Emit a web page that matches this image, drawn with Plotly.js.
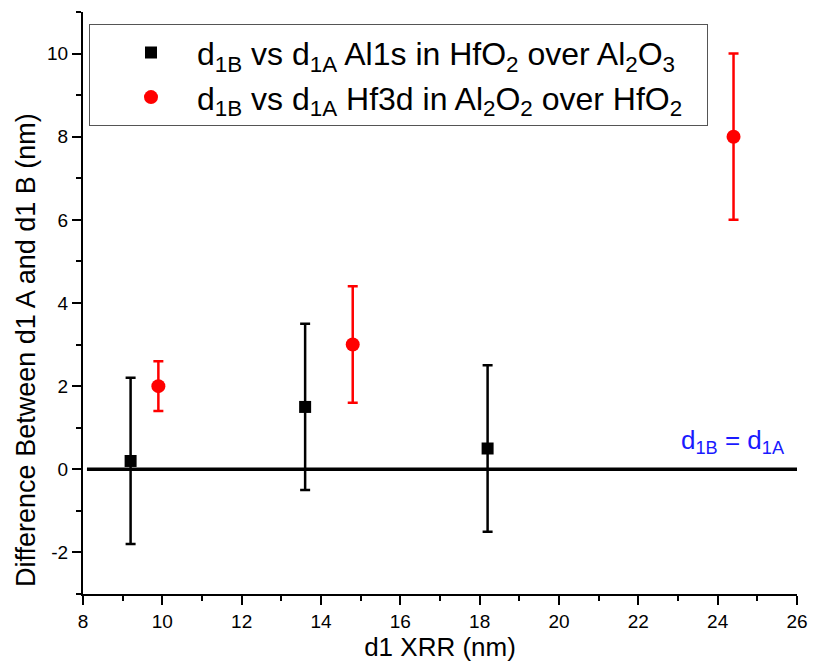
<!DOCTYPE html>
<html>
<head>
<meta charset="utf-8">
<script src="https://cdn.plot.ly/plotly-3.0.1.min.js"></script>
<style>html,body{margin:0;padding:0;background:#fff;}#chart{width:813px;height:662px;}</style>
</head>
<body>
<div id="chart"></div>
<script>
// Series 1: Al1s in HfO2 over Al2O3 (black squares)
const blackX = [9.2, 13.6, 18.2];
const blackY = [0.2, 1.5, 0.5];
const blackErr = [2.0, 2.0, 2.0];
// Series 2: Hf3d in Al2O2 over HfO2 (red circles)
const redX = [9.9, 14.8, 24.4];
const redY = [2.0, 3.0, 8.0];
const redErr = [0.6, 1.4, 2.0];
// Reference line d1B = d1A
const refX = [8.1, 26];
const refY = [0, 0];
// Tick labels
const yTickVals = [-2, 0, 2, 4, 6, 8, 10];
const yTickText = ['-2', '0', '2', '4', '6', '8', '10'];
const xTickVals = [8, 10, 12, 14, 16, 18, 20, 22, 24, 26];
const xTickText = ['8', '10', '12', '14', '16', '18', '20', '22', '24', '26'];

const FONT = 'Liberation Sans, Arial, sans-serif';

const traces = [
  {
    x: refX, y: refY, mode: 'lines', showlegend: false,
    line: {color: '#000', width: 3.5}, hoverinfo: 'skip'
  },
  {
    x: blackX, y: blackY, mode: 'markers', type: 'scatter',
    name: 'd<sub>1B</sub> vs d<sub>1A</sub> Al1s in HfO<sub>2</sub> over Al<sub>2</sub>O<sub>3</sub>&nbsp;&nbsp;&nbsp;',
    marker: {symbol: 'square', size: 12, color: '#000'},
    error_y: {type: 'data', array: blackErr, visible: true, color: '#000', thickness: 2.5, width: 5}
  },
  {
    x: redX, y: redY, mode: 'markers', type: 'scatter',
    name: 'd<sub>1B</sub> vs d<sub>1A</sub> Hf3d in Al<sub>2</sub>O<sub>2</sub> over HfO<sub>2</sub>',
    marker: {symbol: 'circle', size: 14, color: '#ff0000'},
    error_y: {type: 'data', array: redErr, visible: true, color: '#ff0000', thickness: 2.5, width: 5}
  }
];

const layout = {
  width: 813, height: 662,
  margin: {l: 83, r: 16, t: 12, b: 68},
  paper_bgcolor: '#fff', plot_bgcolor: '#fff',
  font: {family: FONT, color: '#000', size: 19},
  showlegend: true,
  legend: {
    x: 0.0084, y: 0.979, xanchor: 'left', yanchor: 'top',
    bordercolor: '#555', borderwidth: 1, bgcolor: '#fff',
    font: {family: FONT, size: 32, color: '#000'},
    indentation: 15, itemwidth: 82
  },
  xaxis: {
    range: [8, 26], showgrid: false, zeroline: false,
    showline: true, linecolor: '#000', linewidth: 2,
    ticks: 'outside', ticklen: 9, tickwidth: 2, tickcolor: '#000',
    tickmode: 'array', tickvals: xTickVals, ticktext: xTickText,
    tickfont: {family: FONT, size: 19},
    minor: {ticks: 'outside', ticklen: 5, tickwidth: 2, tickcolor: '#000', dtick: 1, tick0: 0},
    title: {text: 'd1 XRR (nm)', font: {family: FONT, size: 26}, standoff: 3}
  },
  yaxis: {
    range: [-3, 11], showgrid: false, zeroline: false,
    showline: true, linecolor: '#000', linewidth: 2,
    ticks: 'outside', ticklen: 9, tickwidth: 2, tickcolor: '#000',
    tickmode: 'array', tickvals: yTickVals, ticktext: yTickText,
    tickfont: {family: FONT, size: 19},
    minor: {ticks: 'outside', ticklen: 5, tickwidth: 2, tickcolor: '#000', dtick: 1, tick0: 0}
  },
  annotations: [
    {
      x: 24.38, y: 0.67, xref: 'x', yref: 'y', showarrow: false,
      text: 'd<sub>1B</sub> = d<sub>1A</sub>', xanchor: 'center', yanchor: 'middle',
      font: {family: FONT, size: 26, color: '#1a1aff'}
    },
    {
      x: -0.0807, y: 0.42, xref: 'paper', yref: 'paper', showarrow: false,
      text: 'Difference Between d1 A and d1 B (nm)', textangle: -90,
      xanchor: 'center', yanchor: 'middle',
      font: {family: FONT, size: 27, color: '#000'}
    }
  ]
};

Plotly.newPlot('chart', traces, layout, {displayModeBar: false, staticPlot: true});
</script>
</body>
</html>
